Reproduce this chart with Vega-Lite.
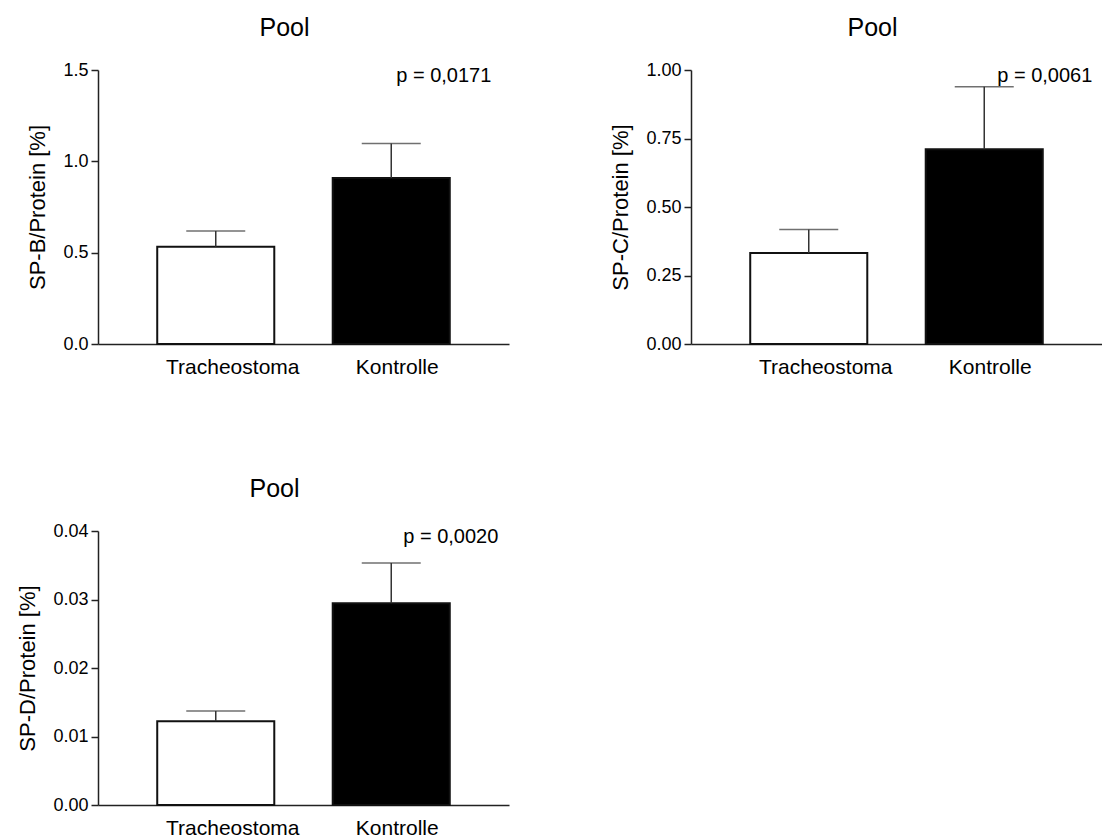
{
  "$schema": "https://vega.github.io/schema/vega-lite/v6.json",
  "padding": {"left": 16, "top": 16, "right": 0, "bottom": 0},
  "background": "white",
  "config": {
    "font": "Liberation Sans",
    "view": {"stroke": null},
    "title": {"font": "Liberation Sans", "fontSize": 25, "fontWeight": "normal", "color": "#000", "anchor": "middle", "frame": "group"},
    "axisY": {"domainColor": "#222", "domainWidth": 1.5, "tickColor": "#222", "tickWidth": 1.5, "tickSize": 7, "grid": false, "labelFont": "Liberation Sans", "labelFontSize": 18, "labelColor": "#000", "labelPadding": 3, "titleFont": "Liberation Sans", "titleFontSize": 22, "titleFontWeight": "normal", "titleColor": "#000", "titlePadding": 13},
    "axisX": {"domainColor": "#222", "domainWidth": 1.5, "ticks": false, "grid": false, "labelAngle": 0, "labelFont": "Liberation Sans", "labelFontSize": 21, "labelColor": "#000", "labelPadding": 12, "title": null}
  },
  "data": {"values": [
    {"panel": "B", "group": "Tracheostoma", "mean": 0.533, "upper": 0.618, "p": "p = 0,0171"},
    {"panel": "B", "group": "Kontrolle", "mean": 0.909, "upper": 1.098, "p": "p = 0,0171"},
    {"panel": "C", "group": "Tracheostoma", "mean": 0.332, "upper": 0.418, "p": "p = 0,0061"},
    {"panel": "C", "group": "Kontrolle", "mean": 0.711, "upper": 0.939, "p": "p = 0,0061"},
    {"panel": "D", "group": "Tracheostoma", "mean": 0.01222, "upper": 0.01374, "p": "p = 0,0020"},
    {"panel": "D", "group": "Kontrolle", "mean": 0.02947, "upper": 0.03532, "p": "p = 0,0020"}
  ]},
  "columns": 2,
  "spacing": {"row": 100, "column": 100},
  "concat": [
    {
      "width": 411, "height": 274,
      "title": {"text": "Pool", "dx": -19, "offset": 20},
      "transform": [{"filter": "datum.panel == 'B'"}],
      "encoding": {
        "x": {"field": "group", "type": "nominal", "sort": ["Tracheostoma", "Kontrolle"], "scale": {"paddingInner": 0.333, "paddingOuter": 0.3375}, "axis": {"labelOffset": {"condition": {"test": "datum.value === 'Tracheostoma'", "value": 17}, "value": 6}}}
      },
      "layer": [
        {"mark": {"type": "bar", "stroke": "#111", "strokeWidth": 2},
         "encoding": {
           "y": {"field": "mean", "type": "quantitative", "scale": {"domain": [0, 1.5], "nice": false}, "axis": {"values": [0, 0.5, 1, 1.5], "format": ".1f", "title": "SP-B/Protein [%]"}},
           "fill": {"field": "group", "type": "nominal", "scale": {"domain": ["Tracheostoma", "Kontrolle"], "range": ["#ffffff", "#000000"]}, "legend": null}}},
        {"mark": {"type": "rule", "color": "#333", "strokeWidth": 1.5},
         "encoding": {"y": {"field": "mean", "type": "quantitative"}, "y2": {"field": "upper"}}},
        {"mark": {"type": "tick", "color": "#333", "thickness": 1.5, "size": 59},
         "encoding": {"y": {"field": "upper", "type": "quantitative"}}},
        {"transform": [{"filter": "datum.group == 'Kontrolle'"}],
         "mark": {"type": "text", "align": "left", "baseline": "alphabetic", "dx": 5, "dy": 12, "fontSize": 20, "color": "#000"},
         "encoding": {"y": {"datum": 1.5}, "text": {"field": "p"}}}
      ]
    },
    {
      "width": 411, "height": 274,
      "title": {"text": "Pool", "dx": -24, "offset": 20},
      "transform": [{"filter": "datum.panel == 'C'"}],
      "encoding": {
        "x": {"field": "group", "type": "nominal", "sort": ["Tracheostoma", "Kontrolle"], "scale": {"paddingInner": 0.333, "paddingOuter": 0.3375}, "axis": {"labelOffset": {"condition": {"test": "datum.value === 'Tracheostoma'", "value": 17}, "value": 6}}}
      },
      "layer": [
        {"mark": {"type": "bar", "stroke": "#111", "strokeWidth": 2},
         "encoding": {
           "y": {"field": "mean", "type": "quantitative", "scale": {"domain": [0, 1.0], "nice": false}, "axis": {"values": [0, 0.25, 0.5, 0.75, 1], "format": ".2f", "title": "SP-C/Protein [%]"}},
           "fill": {"field": "group", "type": "nominal", "scale": {"domain": ["Tracheostoma", "Kontrolle"], "range": ["#ffffff", "#000000"]}, "legend": null}}},
        {"mark": {"type": "rule", "color": "#333", "strokeWidth": 1.5},
         "encoding": {"y": {"field": "mean", "type": "quantitative"}, "y2": {"field": "upper"}}},
        {"mark": {"type": "tick", "color": "#333", "thickness": 1.5, "size": 59},
         "encoding": {"y": {"field": "upper", "type": "quantitative"}}},
        {"transform": [{"filter": "datum.group == 'Kontrolle'"}],
         "mark": {"type": "text", "align": "left", "baseline": "alphabetic", "dx": 13, "dy": 12, "fontSize": 20, "color": "#000"},
         "encoding": {"y": {"datum": 1.0}, "text": {"field": "p"}}}
      ]
    },
    {
      "width": 411, "height": 274,
      "title": {"text": "Pool", "dx": -29, "offset": 20},
      "transform": [{"filter": "datum.panel == 'D'"}],
      "encoding": {
        "x": {"field": "group", "type": "nominal", "sort": ["Tracheostoma", "Kontrolle"], "scale": {"paddingInner": 0.333, "paddingOuter": 0.3375}, "axis": {"labelOffset": {"condition": {"test": "datum.value === 'Tracheostoma'", "value": 17}, "value": 6}}}
      },
      "layer": [
        {"mark": {"type": "bar", "stroke": "#111", "strokeWidth": 2},
         "encoding": {
           "y": {"field": "mean", "type": "quantitative", "scale": {"domain": [0, 0.04], "nice": false}, "axis": {"values": [0, 0.01, 0.02, 0.03, 0.04], "format": ".2f", "title": "SP-D/Protein [%]"}},
           "fill": {"field": "group", "type": "nominal", "scale": {"domain": ["Tracheostoma", "Kontrolle"], "range": ["#ffffff", "#000000"]}, "legend": null}}},
        {"mark": {"type": "rule", "color": "#333", "strokeWidth": 1.5},
         "encoding": {"y": {"field": "mean", "type": "quantitative"}, "y2": {"field": "upper"}}},
        {"mark": {"type": "tick", "color": "#333", "thickness": 1.5, "size": 59},
         "encoding": {"y": {"field": "upper", "type": "quantitative"}}},
        {"transform": [{"filter": "datum.group == 'Kontrolle'"}],
         "mark": {"type": "text", "align": "left", "baseline": "alphabetic", "dx": 12, "dy": 12, "fontSize": 20, "color": "#000"},
         "encoding": {"y": {"datum": 0.04}, "text": {"field": "p"}}}
      ]
    }
  ]
}
